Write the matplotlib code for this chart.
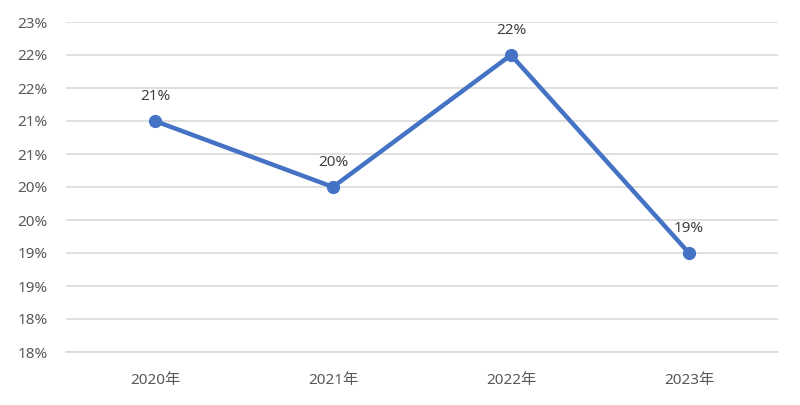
import math
import matplotlib
matplotlib.use("Agg")
import matplotlib.pyplot as plt
from matplotlib.ticker import FuncFormatter, MultipleLocator

plt.rcParams['font.family'] = ['Noto Sans', 'Noto Sans CJK SC', 'DejaVu Sans']

categories = ["2020年", "2021年", "2022年", "2023年"]
values = [21.0, 20.0, 22.0, 19.0]
point_labels = ["21%", "20%", "22%", "19%"]

fig = plt.figure(figsize=(8, 4.05), dpi=100)
ax = fig.add_axes([66/800, 1 - 352/405, (778-66)/800, (352-22)/405])

x = [i + 0.5 for i in range(len(categories))]
ax.plot(x, values, color="#4472C4", linewidth=3.2, marker="o", markersize=8.5, zorder=3)
for xi, v, lab in zip(x, values, point_labels):
    ax.annotate(lab, (xi, v), xytext=(0, 18), textcoords="offset points",
                ha="center", va="center", fontsize=11, color="#404040")

ax.set_xlim(0, 4)
ax.set_ylim(17.5, 22.5)
ax.yaxis.set_major_locator(MultipleLocator(0.5))
ax.yaxis.set_major_formatter(FuncFormatter(lambda v, p: f"{math.floor(v + 0.5 + 1e-9):d}%"))
ax.set_xticks(x)
ax.set_xticklabels(categories)
ax.grid(axis="y", color="#D9D9D9", linewidth=1.2)
ax.set_axisbelow(True)
for s in ["top", "right", "left"]:
    ax.spines[s].set_visible(False)
ax.spines["bottom"].set_color("#D9D9D9")
ax.spines["bottom"].set_linewidth(1.2)
ax.tick_params(axis="both", length=0, labelsize=11, colors="#595959")
ax.tick_params(axis="y", pad=13)
ax.tick_params(axis="x", pad=15)

fig.savefig("out.png", dpi=100, facecolor="white")
